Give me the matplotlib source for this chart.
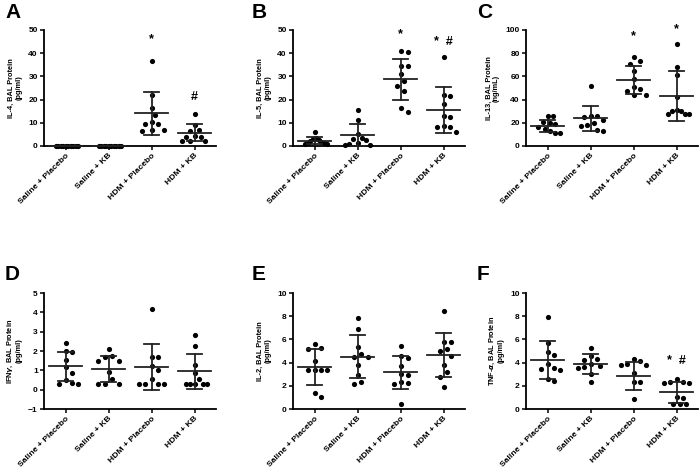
import matplotlib
matplotlib.use('Agg')
import matplotlib.pyplot as plt
import numpy as np

plt.rcParams['font.family'] = ['Liberation Sans', 'DejaVu Sans']
plt.rcParams['font.weight'] = 'bold'

groups = ['Saline + Placebo', 'Saline + KB', 'HDM + Placebo', 'HDM + KB']

# ---- Panel A: IL-4 ----
il4_pts = [[0] * 10,
           [0] * 10,
           [36.5, 22, 16.3, 13.5, 10.5, 9.5, 9.5, 7, 7, 6.5],
           [14, 9, 7, 6.5, 4.2, 4, 4, 2.2, 2, 2]]
il4_mean = [0, 0, 14.1, 5.8]
il4_sd = [0, 0, 9.3, 3.7]
il4_marks = [(2, '*', 46), (3, '#', 21)]

# ---- Panel B: IL-5 ----
il5_pts = [[6.2, 3.5, 3, 2.5, 2, 1.8, 1.5, 1.2, 1, 0.8],
           [15.5, 11.3, 5.2, 3.5, 3, 2.5, 1.5, 1, 0.5, 0.5],
           [40.5, 40.8, 34.5, 34.5, 31, 28, 26, 23.5, 16.5, 14.5],
           [38.5, 22, 21.5, 18, 13, 12.5, 8, 8, 8.5, 6]]
il5_mean = [2.3, 4.7, 28.7, 15.4]
il5_sd = [1.5, 4.9, 9.0, 10.0]
il5_marks = [(2, '*', 48), (3, '*  #', 45)]

# ---- Panel C: IL-13 ----
il13_pts = [[25.5, 25.5, 21, 20, 19, 16, 15, 13, 11, 11],
            [52, 25.5, 25.5, 25, 22, 19.5, 18, 17.5, 13.5, 13],
            [77, 73, 71, 65, 58, 51, 49, 47, 44, 44],
            [88, 68, 61, 42, 31, 30.5, 30.5, 27.5, 27.5, 27.5]]
il13_mean = [17.2, 23.9, 56.8, 43.3]
il13_sd = [5.4, 11.0, 11.8, 21.5]
il13_marks = [(2, '*', 95), (3, '*', 101)]

# ---- Panel D: IFN-gamma ----
ifn_pts = [[2.4, 2.0, 1.95, 1.55, 1.15, 0.85, 0.5, 0.3, 0.3, 0.35],
           [2.1, 1.75, 1.7, 1.5, 1.5, 0.9, 0.55, 0.3, 0.3, 0.3],
           [4.15, 1.7, 1.7, 1.2, 1.0, 0.55, 0.3, 0.3, 0.3, 0.3],
           [2.85, 2.25, 1.3, 0.85, 0.55, 0.3, 0.3, 0.3, 0.3, 0.3]]
ifn_mean = [1.2, 1.07, 1.18, 0.95]
ifn_sd = [0.75, 0.65, 1.18, 0.9]
ifn_marks = []

# ---- Panel E: IL-2 ----
il2_pts = [[5.6, 5.3, 5.2, 4.15, 3.4, 3.4, 3.4, 3.4, 1.4, 1.05],
           [7.85, 6.9, 5.35, 4.75, 4.5, 4.5, 3.8, 2.95, 2.35, 2.15],
           [5.4, 4.55, 4.4, 3.7, 3.0, 2.95, 2.2, 2.15, 2.35, 0.45],
           [8.45, 5.8, 5.8, 5.2, 5.0, 4.6, 3.8, 3.2, 2.75, 1.9]]
il2_mean = [3.62, 4.52, 3.15, 4.63]
il2_sd = [1.55, 1.85, 1.45, 1.9]
il2_marks = []

# ---- Panel F: TNF-alpha ----
tnf_pts = [[7.9, 5.7, 4.9, 4.65, 3.9, 3.55, 3.45, 3.4, 2.55, 2.45],
           [5.3, 4.6, 4.3, 4.25, 3.9, 3.75, 3.6, 3.5, 3.0, 2.35],
           [4.3, 4.1, 3.8, 3.85, 3.8, 3.1, 2.3, 2.3, 0.9],
           [2.55, 2.3, 2.25, 2.25, 2.3, 1.0, 0.95, 0.4, 0.4, 0.4]]
tnf_mean = [4.22, 3.85, 2.86, 1.43]
tnf_sd = [1.65, 0.85, 1.22, 0.92]
tnf_marks = [(3, '*  #', 4.1)]

panels = [
    ('A', 'IL-4, BAL Protein\n(pg/ml)', il4_pts, il4_mean, il4_sd, il4_marks, (0, 50), np.arange(0, 51, 10)),
    ('B', 'IL-5, BAL Protein\n(pg/ml)', il5_pts, il5_mean, il5_sd, il5_marks, (0, 50), np.arange(0, 51, 10)),
    ('C', 'IL-13, BAL Protein\n(ng/mL)', il13_pts, il13_mean, il13_sd, il13_marks, (0, 100), np.arange(0, 101, 20)),
    ('D', 'IFN$\\gamma$, BAL Protein\n(pg/ml)', ifn_pts, ifn_mean, ifn_sd, ifn_marks, (-1, 5), np.arange(-1, 6, 1)),
    ('E', 'IL-2, BAL Protein\n(pg/ml)', il2_pts, il2_mean, il2_sd, il2_marks, (0, 10), np.arange(0, 11, 2)),
    ('F', 'TNF-$\\alpha$, BAL Protein\n(pg/ml)', tnf_pts, tnf_mean, tnf_sd, tnf_marks, (0, 10), np.arange(0, 11, 2)),
]

W, H = 700, 468
fig = plt.figure(figsize=(7.0, 4.68), dpi=100)

ax_left = [44, 293, 526]
ax_w = 172
ax_top = [30, 293]
ax_h = 116
letter_x = [5, 252, 477]
letter_y = [3, 265]


def swarm(vals, ypx, d=7.0, maxhalf=12.5):
    vals = np.asarray(vals, float)
    order = np.argsort(-vals, kind='stable')
    placed = []
    offs = np.zeros(len(vals))
    cands = [0.0]
    for k in range(1, 60):
        cands += [k * d / 2, -k * d / 2]
    for i in order:
        y = vals[i] * ypx
        for c in cands:
            if all((c - px) ** 2 + (y - py) ** 2 >= d * d * 0.999 for px, py in placed):
                break
        placed.append((c, y))
        offs[i] = c
    m = np.abs(offs).max()
    if m > maxhalf:
        offs = offs * maxhalf / m
    return offs


for idx, (letter, ylabel, pts, means, sds, marks, ylim, yticks) in enumerate(panels):
    r, c = divmod(idx, 3)
    l = ax_left[c]
    t = ax_top[r]
    ax = fig.add_axes([l / W, 1 - (t + ax_h) / H, ax_w / W, ax_h / H])
    ax.set_xlim(-0.5, 3.5)
    ax.set_ylim(*ylim)
    xpx = ax_w / 4.0
    ypx = ax_h / (ylim[1] - ylim[0])
    for g, vals in enumerate(pts):
        offs = swarm(vals, ypx)
        ax.scatter(g + offs / xpx, vals, s=14, color='black', zorder=3,
                   clip_on=False, linewidths=0)
        m, s = means[g], sds[g]
        ax.plot([g - 0.38, g + 0.38], [m, m], color='#222222', lw=1.3, zorder=4, clip_on=False)
        if s > 0:
            ax.plot([g, g], [m - s, m + s], color='#222222', lw=1.3, zorder=4, clip_on=False)
            for yy in (m - s, m + s):
                ax.plot([g - 0.18, g + 0.18], [yy, yy], color='#222222', lw=1.3, zorder=4, clip_on=False)
    for g, txt, yv in marks:
        ax.text(g, yv, txt, ha='center', va='center', fontsize=9, fontweight='bold')
    ax.set_yticks(yticks)
    ax.set_xticks(range(4))
    ax.set_xticklabels(groups, rotation=45, ha='right', rotation_mode='anchor',
                       fontsize=6.1, fontweight='bold')
    for lab in ax.get_yticklabels():
        lab.set_fontsize(6)
        lab.set_fontweight('bold')
    ax.set_ylabel(ylabel, fontsize=5.3, fontweight='bold', labelpad=4, linespacing=1.1)
    for sp in ('top', 'right'):
        ax.spines[sp].set_visible(False)
    for sp in ('left', 'bottom'):
        ax.spines[sp].set_linewidth(1.3)
    ax.tick_params(axis='both', direction='out', length=3, width=1.1, pad=1.5)
    ax.tick_params(axis='x', pad=1.5)
    fig.text(letter_x[c] / W, 1 - letter_y[r] / H, letter, fontsize=15,
             fontweight='bold', ha='left', va='top')

fig.savefig('out.png', dpi=100)
